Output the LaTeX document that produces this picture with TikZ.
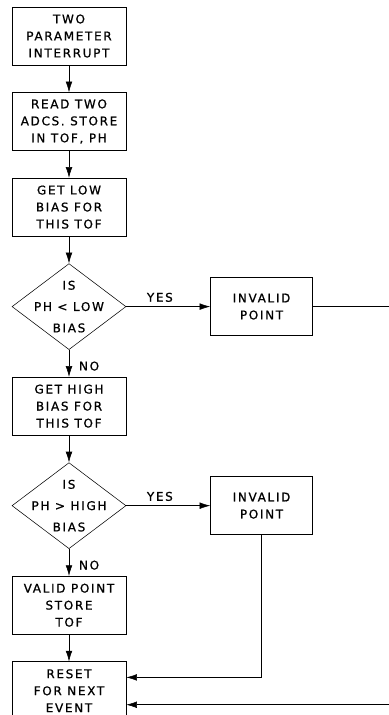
\documentclass[tikz,border=0pt]{standalone}
\usepackage{fontspec}
\newfontfamily\chartfont{DejaVu Sans}[LetterSpace=14, FakeBold=0.8]
\usepackage{tikz}
\usetikzlibrary{arrows.meta, positioning, shapes.geometric}
\tikzset{
	->,
	>={Latex[length=8pt,width=5pt]},
	node distance=20.25pt,
	align=center,
	line width=1.1pt,
	block/.style={draw, minimum width=85.5pt, minimum height=43.5pt, inner sep=0pt,
		font=\chartfont\fontsize{9}{12.75}\selectfont},
	decision/.style={draw, diamond, aspect=1.33, minimum width=85.5pt, minimum height=64.5pt,
		inner sep=-12pt, font=\chartfont\fontsize{9}{16}\selectfont},
	answer/.style={font=\chartfont\fontsize{9}{10}\selectfont}
}

\begin{document}
\begin{tikzpicture}
	\useasboundingbox (0,0) rectangle (291.75pt,-536.25pt);
	\node[block] (intr) at (51.75pt,-27pt) {TWO\\PARAMETER\\INTERRUPT};
	\node[block, below=of intr]     (read)     {READ TWO\\ADCS. STORE\\IN TOF, PH};
	\node[block, below=of read]     (lowbias)  {GET LOW\\BIAS FOR\\THIS TOF};
	\node[decision, below=of lowbias] (lowtest) {IS\\PH < LOW\\BIAS};
	\node[block, right=63pt of lowtest, minimum width=76.5pt] (badlow) {INVALID\\POINT};
	\node[block, below=of lowtest]  (highbias) {GET HIGH\\BIAS FOR\\THIS TOF};
	\node[decision, below=of highbias] (hightest) {IS\\PH > HIGH\\BIAS};
	\node[block, right=63pt of hightest, minimum width=76.5pt] (badhigh) {INVALID\\POINT};
	\node[block, below=of hightest] (valid)    {VALID POINT\\STORE\\TOF};
	\node[block, below=of valid]    (reset)    {RESET\\FOR NEXT\\EVENT};
	\coordinate[right=60pt of badlow] (loop);
	\draw
	(intr) edge (read)
	(read) edge (lowbias)
	(lowbias) edge (lowtest)
	(lowtest) edge node[answer, above, pos=0.4]{YES} (badlow)
	(lowtest) edge node[answer, right=4pt, pos=0.6]{NO} (highbias)
	(highbias) edge (hightest)
	(hightest) edge node[answer, above, pos=0.4]{YES} (badhigh)
	(hightest) edge node[answer, right=4pt, pos=0.6]{NO} (valid)
	(valid) edge (reset)
	;
	% both invalid points go back to the reset
	\draw (badhigh) |- ([yshift=10pt]reset.east);
	\draw (badlow) -- (loop) |- ([yshift=-10.5pt]reset.east);
\end{tikzpicture}
\end{document}
